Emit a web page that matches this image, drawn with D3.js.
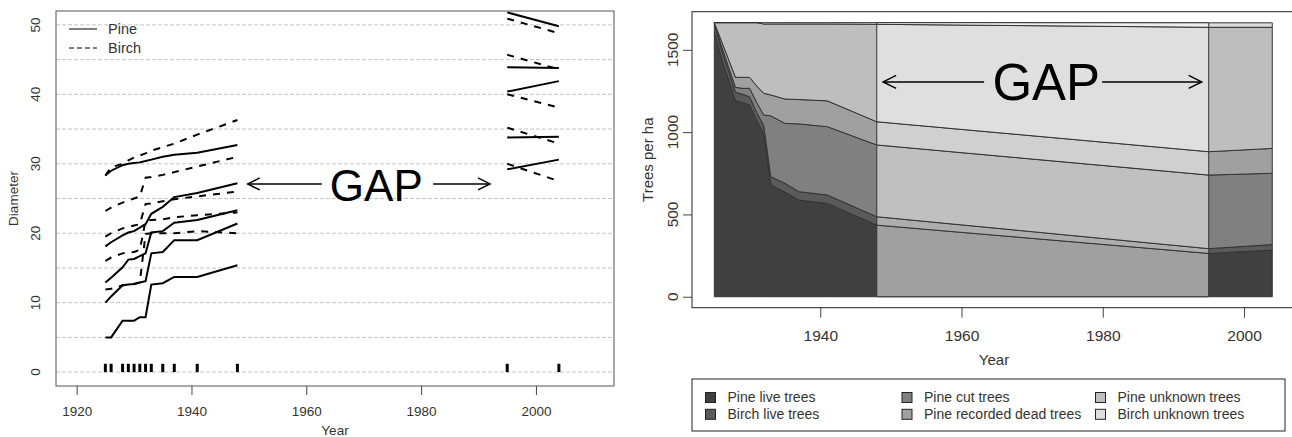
<!DOCTYPE html>
<html>
<head>
<meta charset="utf-8">
<script src="https://cdn.jsdelivr.net/npm/d3@7"></script>
<style>
  body { margin: 0; background: #fff; }
  svg { display: block; font-family: "Liberation Sans", Arial, sans-serif; }
</style>
</head>
<body>
<svg id="chart" width="1292" height="437"></svg>
<script>
// inventory years (no measurements between 1948 and 1995)
const years = [1925, 1926, 1928, 1929, 1930, 1931, 1932, 1933, 1935, 1937, 1941, 1948, 1995, 2004];

// diameter of sample trees
const pine1 = [28.3, 29.0, 29.8, 30.0, 30.1, 30.2, 30.4, 30.6, 31.0, 31.3, 31.6, 32.7, 51.8, 49.8];
const pine2 = [18.1, 18.7, 19.7, 20.1, 20.3, 20.8, 21.3, 22.8, 23.8, 25.2, 25.8, 27.2, 43.9, 43.8];
const pine3 = [12.9, 13.6, 15.1, 16.2, 16.3, 16.7, 17.1, 20.1, 20.3, 21.5, 21.9, 23.3, 40.4, 41.9];
const pine4 = [10.0, 10.9, 12.5, 12.6, 12.7, 12.9, 13.1, 17.1, 17.3, 19.0, 19.0, 21.4, 33.8, 33.9];
const pine5 = [5.0, 5.0, 7.4, 7.4, 7.4, 7.9, 7.9, 12.6, 12.8, 13.7, 13.7, 15.4, 29.2, 30.6];
const birch1 = [28.3, 29.5, 30.0, 30.5, 30.9, 31.2, 31.5, 31.9, 32.4, 32.9, 34.2, 36.3, 50.9, 48.8];
const birch2 = [23.2, 23.7, 24.4, 24.7, 25.0, 25.3, 28.0, 28.1, 28.4, 28.8, 29.6, 31.0, 45.7, 43.6];
const birch3 = [19.5, 20.0, 20.7, 20.9, 21.1, 21.3, 24.2, 24.3, 24.6, 24.9, 25.3, 26.0, 40.0, 38.1];
const birch4 = [16.0, 16.5, 17.1, 17.2, 17.3, 17.6, 21.8, 21.9, 22.0, 22.3, 22.6, 23.0, 35.2, 32.9];
const birch5 = [11.9, 12.0, 12.5, 12.6, 12.7, 12.9, 19.9, 20.0, 20.0, 20.0, 20.3, 20.0, 30.0, 27.5];

// trees per ha by fate
const pineLive = [1610, 1450, 1190, 1180, 1165, 1070, 990, 679, 636, 587, 567, 435, 263, 283];
const birchLive = [55, 55, 52, 50, 50, 50, 50, 50, 53, 51, 51, 51, 29, 34];
const pineCut = [0, 20, 30, 36, 51, 60, 64, 370, 364, 412, 415, 436, 447, 433];
const pineDead = [0, 30, 61, 67, 67, 100, 132, 127, 148, 148, 157, 141, 142, 151];
const pineUnknown = [0, 110, 332, 332, 332, 385, 421, 431, 456, 459, 467, 592, 756, 736];
const birchUnknown = [0, 0, 0, 0, 0, 0, 8, 8, 8, 8, 8, 10, 27, 27];

const fateLabels = ['Pine live trees', 'Birch live trees', 'Pine cut trees',
  'Pine recorded dead trees', 'Pine unknown trees', 'Birch unknown trees'];
const fateFills = ['#404040', '#5a5a5a', '#808080', '#a0a0a0', '#bebebe', '#dedede'];

const xTicksLeft = [1920, 1940, 1960, 1980, 2000];
const yTicksLeft = [0, 10, 20, 30, 40, 50];
const xTicksRight = [1940, 1960, 1980, 2000];
const yTicksRight = [0, 500, 1000, 1500];

const gapStart = 1948, gapEnd = 1995;

const svg = d3.select('#chart');
const txt = '#333';

// ---------- left panel: diameters ----------
const xL = d3.scaleLinear().domain([1916.4, 2013.6]).range([56, 614]);
const yL = d3.scaleLinear().domain([-2, 52]).range([386, 11]);

const left = svg.append('g');

left.append('clipPath').attr('id', 'clipL')
  .append('rect')
  .attr('x', xL.range()[0]).attr('y', yL.range()[1])
  .attr('width', xL.range()[1] - xL.range()[0])
  .attr('height', yL.range()[0] - yL.range()[1]);

left.selectAll('.grid').data(d3.range(0, 51, 5))
  .join('line')
  .attr('class', 'grid')
  .attr('x1', xL.range()[0]).attr('x2', xL.range()[1])
  .attr('y1', d => yL(d)).attr('y2', d => yL(d))
  .attr('stroke', '#c4c4c4')
  .attr('stroke-dasharray', '4,2');

const early = years.map((y, i) => i).filter(i => years[i] <= gapStart);
const late = years.map((y, i) => i).filter(i => years[i] >= gapEnd);

const diamSeries = [
  {vals: pine1, dash: null}, {vals: pine2, dash: null}, {vals: pine3, dash: null},
  {vals: pine4, dash: null}, {vals: pine5, dash: null},
  {vals: birch1, dash: '7,7'}, {vals: birch2, dash: '7,7'}, {vals: birch3, dash: '7,7'},
  {vals: birch4, dash: '7,7'}, {vals: birch5, dash: '7,7'}
];

const lineG = left.append('g').attr('clip-path', 'url(#clipL)');
diamSeries.forEach(s => {
  const line = d3.line().x(i => xL(years[i])).y(i => yL(s.vals[i]));
  [early, late].forEach(seg => {
    lineG.append('path')
      .attr('d', line(seg))
      .attr('fill', 'none')
      .attr('stroke', '#000')
      .attr('stroke-width', 2)
      .attr('stroke-dasharray', s.dash);
  });
});

// rug of inventory years
left.selectAll('.rug').data(years)
  .join('line')
  .attr('class', 'rug')
  .attr('x1', d => xL(d)).attr('x2', d => xL(d))
  .attr('y1', yL(0)).attr('y2', yL(1.2))
  .attr('stroke', '#000').attr('stroke-width', 3);

left.append('rect')
  .attr('x', xL.range()[0]).attr('y', yL.range()[1])
  .attr('width', xL.range()[1] - xL.range()[0])
  .attr('height', yL.range()[0] - yL.range()[1])
  .attr('fill', 'none').attr('stroke', '#555');

const axL = left.append('g')
  .attr('transform', `translate(0,${yL.range()[0]})`)
  .call(d3.axisBottom(xL).tickValues(xTicksLeft).tickFormat(d3.format('d')).tickSize(9).tickPadding(11));
axL.select('.domain').remove();
axL.selectAll('line').attr('stroke', '#444');
axL.selectAll('text').attr('fill', txt).style('font-size', '13.5px');

left.selectAll('.ylab').data(yTicksLeft)
  .join('text')
  .attr('class', 'ylab')
  .attr('transform', d => `translate(35,${yL(d)}) rotate(-90)`)
  .attr('text-anchor', 'middle').attr('dy', '0.35em')
  .attr('fill', txt).style('font-size', '13.5px')
  .text(d => d);

left.append('text')
  .attr('x', xL(1965)).attr('y', 434.5)
  .attr('text-anchor', 'middle').attr('fill', txt).style('font-size', '13.5px')
  .text('Year');
left.append('text')
  .attr('transform', `translate(13,${(yL.range()[0] + yL.range()[1]) / 2}) rotate(-90)`)
  .attr('text-anchor', 'middle').attr('dy', '0.35em')
  .attr('fill', txt).style('font-size', '13.5px')
  .text('Diameter');

// legend
[['Pine', null, 29], ['Birch', '7,7', 48]].forEach(([lab, dash, y]) => {
  left.append('line')
    .attr('x1', 69).attr('x2', 97).attr('y1', y).attr('y2', y)
    .attr('stroke', '#000').attr('stroke-width', 1)
    .attr('stroke-dasharray', dash ? '5,3' : null);
  left.append('text')
    .attr('x', 108).attr('y', y).attr('dy', '0.35em')
    .attr('fill', txt).style('font-size', '14.5px')
    .text(lab);
});

// GAP annotation with arrows
function arrow(g, x1, x2, y, head) {
  g.append('line').attr('x1', x1).attr('x2', x2).attr('y1', y).attr('y2', y)
    .attr('stroke', '#000').attr('stroke-width', 1.5);
  const dir = x2 > x1 ? -1 : 1;
  g.append('path')
    .attr('d', `M${x2 + dir * head},${y - head / 2}L${x2},${y}L${x2 + dir * head},${y + head / 2}`)
    .attr('fill', 'none').attr('stroke', '#000').attr('stroke-width', 1.5);
}
arrow(left, xL(1962.7), xL(1949.8), yL(27.1), 12);
arrow(left, xL(1982.1), xL(1992.0), yL(27.1), 12);
left.append('text')
  .attr('x', xL(1972.2)).attr('y', yL(24.7))
  .attr('text-anchor', 'middle').attr('fill', '#000')
  .style('font-size', '44px')
  .text('GAP');

// ---------- right panel: stand development ----------
const xR = d3.scaleLinear().domain([1921.84, 2007.16]).range([692, 1294.6]);
const yR = d3.scaleLinear().domain([-66.6, 1731.6]).range([307.7, 11.7]);

const right = svg.append('g');

const keys = ['pineLive', 'birchLive', 'pineCut', 'pineDead', 'pineUnknown', 'birchUnknown'];
const rows = years.map((yr, i) => ({
  year: yr,
  pineLive: pineLive[i], birchLive: birchLive[i], pineCut: pineCut[i],
  pineDead: pineDead[i], pineUnknown: pineUnknown[i], birchUnknown: birchUnknown[i]
}));
const stacked = d3.stack().keys(keys)(rows);

const area = d3.area()
  .x(d => xR(d.data.year))
  .y0(d => yR(d[0]))
  .y1(d => yR(d[1]));

right.append('clipPath').attr('id', 'clipGap')
  .append('rect')
  .attr('x', xR(gapStart)).attr('y', 0)
  .attr('width', xR(gapEnd) - xR(gapStart)).attr('height', 437);

const lighten = c => d3.interpolateRgb(c, '#fff')(0.5);

right.append('g').selectAll('path').data(stacked)
  .join('path')
  .attr('d', area)
  .attr('fill', (d, i) => fateFills[i])
  .attr('stroke', '#333').attr('stroke-width', 1);

right.append('g').attr('clip-path', 'url(#clipGap)')
  .selectAll('path').data(stacked)
  .join('path')
  .attr('d', area)
  .attr('fill', (d, i) => lighten(fateFills[i]))
  .attr('stroke', '#333').attr('stroke-width', 1);

const total = rows.map(r => keys.reduce((s, k) => s + r[k], 0));
[gapStart, gapEnd].forEach(yr => {
  const i = years.indexOf(yr);
  right.append('line')
    .attr('x1', xR(yr)).attr('x2', xR(yr))
    .attr('y1', yR(0)).attr('y2', yR(total[i]))
    .attr('stroke', '#333').attr('stroke-width', 1);
});

right.append('rect')
  .attr('x', xR.range()[0]).attr('y', yR.range()[1])
  .attr('width', xR.range()[1] - xR.range()[0])
  .attr('height', yR.range()[0] - yR.range()[1])
  .attr('fill', 'none').attr('stroke', '#222');

const axRx = right.append('g')
  .attr('transform', `translate(0,${yR.range()[0]})`)
  .call(d3.axisBottom(xR).tickValues(xTicksRight).tickFormat(d3.format('d')).tickSize(10).tickPadding(12));
axRx.select('.domain').remove();
axRx.selectAll('line').attr('stroke', '#444');
axRx.selectAll('text').attr('fill', txt).style('font-size', '15.5px');

const axRy = right.append('g')
  .attr('transform', `translate(${xR.range()[0]},0)`)
  .call(d3.axisLeft(yR).tickValues(yTicksRight).tickSize(9).tickFormat(''));
axRy.select('.domain').remove();
axRy.selectAll('line').attr('stroke', '#444');

right.selectAll('.ylabR').data(yTicksRight)
  .join('text')
  .attr('class', 'ylabR')
  .attr('transform', d => `translate(672.5,${yR(d)}) rotate(-90)`)
  .attr('text-anchor', 'middle').attr('dy', '0.35em')
  .attr('fill', txt).style('font-size', '15.5px')
  .text(d => d);

right.append('text')
  .attr('x', xR(1964.6)).attr('y', 365)
  .attr('text-anchor', 'middle').attr('fill', txt).style('font-size', '15px')
  .text('Year');
right.append('text')
  .attr('transform', `translate(647.5,${(yR.range()[0] + yR.range()[1]) / 2}) rotate(-90)`)
  .attr('text-anchor', 'middle').attr('dy', '0.35em')
  .attr('fill', txt).style('font-size', '15px')
  .text('Trees per ha');

arrow(right, xR(1963.2), xR(1948.9), yR(1305), 13);
arrow(right, xR(1979.9), xR(1994.0), yR(1305), 13);
right.append('text')
  .attr('x', xR(1972)).attr('y', yR(1195))
  .attr('text-anchor', 'middle').attr('fill', '#000')
  .style('font-size', '51px')
  .text('GAP');

// legend below
const leg = right.append('g');
leg.append('rect')
  .attr('x', 692).attr('y', 379).attr('width', 593).attr('height', 52)
  .attr('fill', '#fff').attr('stroke', '#222');
const colX = [710.5, 907, 1100.5];
const rowY = [397.5, 414.3];
fateLabels.forEach((lab, i) => {
  const cx = colX[Math.floor(i / 2)], cy = rowY[i % 2];
  leg.append('rect')
    .attr('x', cx - 5).attr('y', cy - 5).attr('width', 10).attr('height', 10)
    .attr('fill', fateFills[i]).attr('stroke', '#222');
  leg.append('text')
    .attr('x', cx + 17).attr('y', cy).attr('dy', '0.35em')
    .attr('fill', txt).style('font-size', '14px')
    .text(lab);
});
</script>
</body>
</html>
